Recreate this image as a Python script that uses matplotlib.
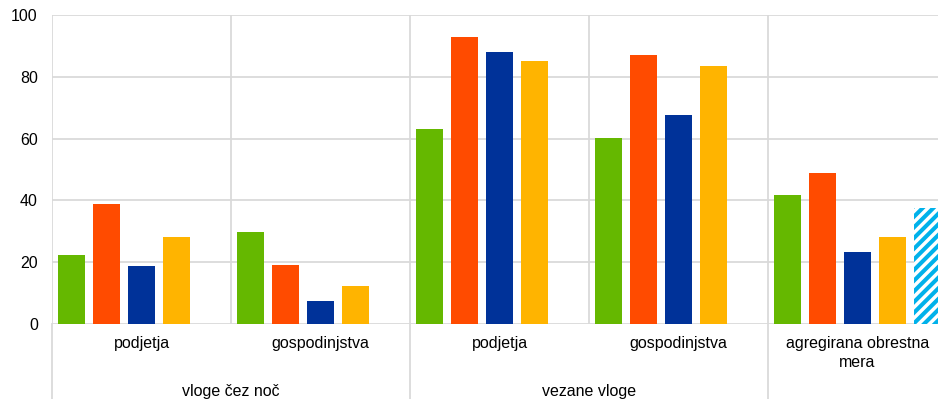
import matplotlib
matplotlib.use("Agg")
import matplotlib.pyplot as plt
import numpy as np
from matplotlib.lines import Line2D

# Categories and group labels
categories = ["podjetja", "gospodinjstva", "podjetja", "gospodinjstva",
              "agregirana obrestna\nmera"]
groups = ["vloge čez noč", "vezane vloge"]

# Series values (%), one value per category
series_green = [22.3, 29.8, 63.1, 60.2, 41.7]
series_orange = [38.8, 19.1, 92.9, 87.1, 48.9]
series_blue = [18.8, 7.4, 88.0, 67.6, 23.3]
series_yellow = [28.2, 12.3, 85.1, 83.5, 28.2]
series_hatched = [np.nan, np.nan, np.nan, np.nan, 37.5]

y_ticks = [0, 20, 40, 60, 80, 100]

DPI = 128
fig = plt.figure(figsize=(938 / DPI, 399 / DPI), dpi=DPI)
plt.rcParams["font.family"] = ["Liberation Sans", "DejaVu Sans"]
plt.rcParams["hatch.linewidth"] = 2.3

ax = fig.add_axes([52 / 938, 75 / 399, 895 / 938, 309 / 399])

x = np.arange(len(categories))
width = 0.151
step = 0.195
grid_col = "#d9d9d9"

solid = [(series_green, "#65B800"), (series_orange, "#FF4B00"),
         (series_blue, "#003299"), (series_yellow, "#FFB400")]
for k, (vals, col) in enumerate(solid):
    ax.bar(x + (k - 2) * step, vals, width, color=col, zorder=3)

ax.bar(x + 2 * step, series_hatched, width, facecolor="white",
       edgecolor="#00B1EA", hatch="////", linewidth=0, zorder=3)

ax.set_xlim(-0.5, len(categories) - 0.5)
ax.set_ylim(0, 100)
ax.set_yticks(y_ticks)
ax.tick_params(axis="y", length=0, pad=8, labelsize=9, labelcolor="#000000")
ax.set_xticks([])
for s in ax.spines.values():
    s.set_visible(False)

for v in y_ticks:
    ax.axhline(v, color=grid_col, lw=1.0, zorder=1)

# category separators inside the plot
for b in np.arange(-0.5, len(categories), 1.0):
    ax.axvline(b, color=grid_col, lw=1.0, zorder=1)

# group separators extending below the axis
trans = ax.get_xaxis_transform()
for b in [-0.5, 1.5, 3.5]:
    ax.add_line(Line2D([b, b], [0, -0.26], transform=trans, color=grid_col,
                       lw=1.0, clip_on=False))

for xi, lab in zip(x, categories):
    yy = -0.093 if "\n" in lab else -0.0615
    ax.text(xi, yy, lab, transform=trans, ha="center", va="center",
            fontsize=9, linespacing=1.3)

for gx, g in zip([0.5, 2.5], groups):
    ax.text(gx, -0.217, g, transform=trans, ha="center", va="center",
            fontsize=9)

fig.savefig("out.png", dpi=DPI)
